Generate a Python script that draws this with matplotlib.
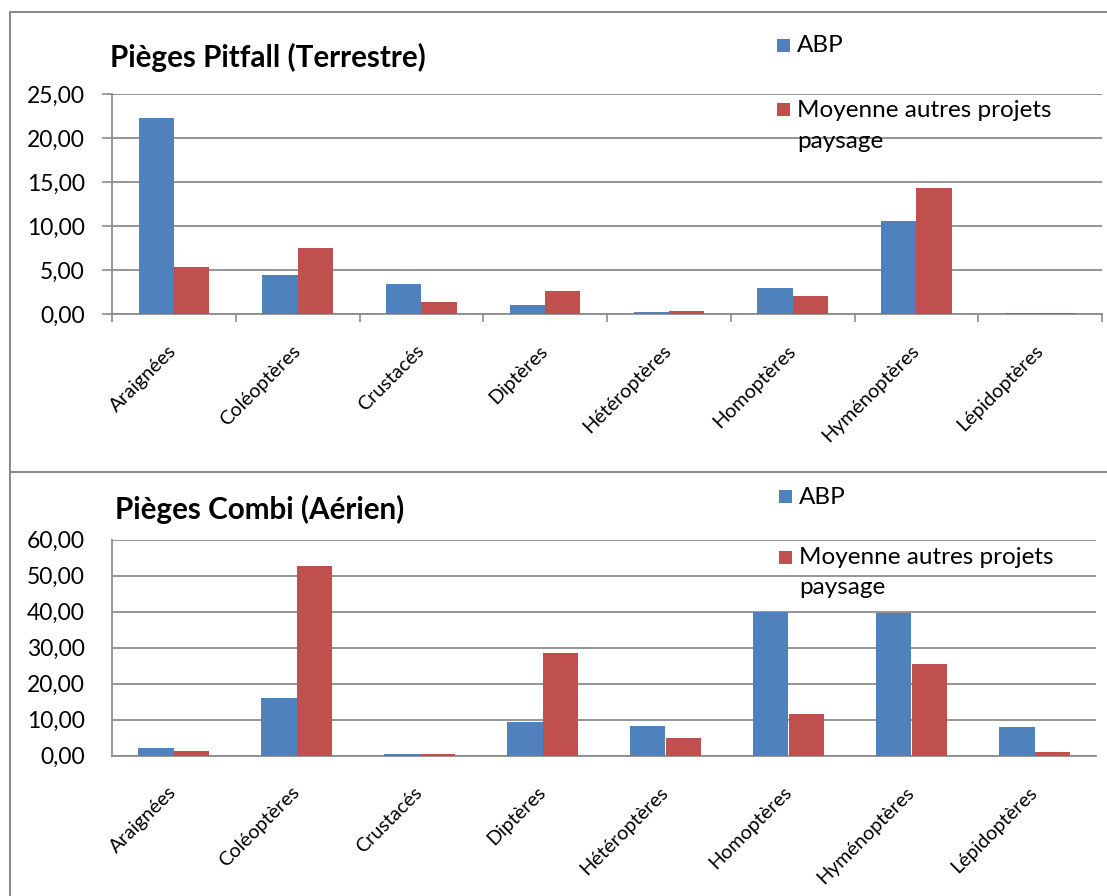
import matplotlib
matplotlib.use("Agg")
import matplotlib.pyplot as plt
from matplotlib.ticker import FuncFormatter, MultipleLocator, FixedLocator
from matplotlib.lines import Line2D
from matplotlib.patches import Rectangle
import numpy as np

# Insect groups and mean catches per trap type
categories = ["Araignées", "Coléoptères", "Crustacés", "Diptères",
              "Hétéroptères", "Homoptères", "Hyménoptères", "Lépidoptères"]
series_labels = ["ABP", "Moyenne autres projets\npaysage"]

pitfall_abp = [22.3, 4.4, 3.4, 1.05, 0.2, 2.95, 10.55, 0.15]
pitfall_autres = [5.3, 7.45, 1.35, 2.65, 0.35, 2.1, 14.3, 0.15]

combi_abp = [2.2, 16.1, 0.5, 9.3, 8.3, 40.0, 39.5, 7.95]
combi_autres = [1.2, 52.7, 0.4, 28.6, 4.8, 11.5, 25.3, 0.85]

titles = ["Pièges Pitfall (Terrestre)", "Pièges Combi (Aérien)"]

W, H = 1107, 896
BLUE = "#4F81BD"
RED = "#C0504D"
GRID = "#8c8c8c"
FRAME = "#8a8a8a"
FONT = "Lato"

plt.rcParams["font.family"] = [FONT, "DejaVu Sans"]

fig = plt.figure(figsize=(W / 100, H / 100), dpi=100)
fig.patch.set_facecolor("white")


def fx(px):
    return px / W


def fy(py):
    return 1 - py / H


def comma_fmt(v, pos):
    return f"{v:.2f}".replace(".", ",")


def draw_panel(rect, abp, autres, ymax, ystep, boundary_ticks):
    left, top, right, bottom = rect
    ax = fig.add_axes([fx(left), fy(bottom), fx(right - left), (bottom - top) / H])
    n = len(categories)
    x = np.arange(n) + 0.5
    bw = 1 / 3.5  # Excel gap width of 150 %
    b1 = ax.bar(x - bw / 2, abp, width=bw, color=BLUE, linewidth=0, zorder=3)
    b2 = ax.bar(x + bw / 2, autres, width=bw, color=RED, linewidth=0, zorder=3)
    ax.set_xlim(0, n)
    ax.set_ylim(0, ymax)
    ax.yaxis.set_major_locator(MultipleLocator(ystep))
    ax.yaxis.set_major_formatter(FuncFormatter(comma_fmt))
    ax.grid(axis="y", color=GRID, linewidth=1.3, zorder=0)
    ax.set_axisbelow(True)
    for side in ("top", "right"):
        ax.spines[side].set_visible(False)
    for side in ("left", "bottom"):
        ax.spines[side].set_color(GRID)
        ax.spines[side].set_linewidth(1.3)

    ax.set_xticks(x)
    ax.set_xticklabels(categories)
    ax.tick_params(axis="x", which="major", length=0, pad=24.5, labelsize=14.2)
    for lab in ax.get_xticklabels():
        lab.set_rotation(45)
        lab.set_ha("right")
        lab.set_va("center")
        lab.set_rotation_mode("anchor")
    if boundary_ticks:
        ax.xaxis.set_minor_locator(FixedLocator(np.arange(n + 1)))
        ax.tick_params(axis="x", which="minor", length=5.5, width=1.2, color=GRID, direction="out")
        ax.tick_params(axis="y", length=7, width=1.2, color=GRID, pad=12.5, labelsize=16.5)
    else:
        ax.tick_params(axis="y", length=0, pad=19.5, labelsize=16.5)
    return ax, (b1, b2)


def draw_legend(handles, x_sq, y_abp, y_autres, y_wrap):
    sq = 13
    for h, yc in zip(handles, (y_abp, y_autres)):
        color = h.patches[0].get_facecolor()
        fig.patches.append(Rectangle((fx(x_sq), fy(yc + sq / 2)), sq / W, sq / H,
                                     transform=fig.transFigure, facecolor=color,
                                     edgecolor="none"))
    fig.text(fx(x_sq + 20), fy(y_abp), series_labels[0], fontsize=17.5,
             va="center", ha="left")
    fig.text(fx(x_sq + 20), fy((y_autres + y_wrap) / 2), series_labels[1],
             fontsize=17.5, va="center", ha="left", linespacing=1.55)


# Top panel: pitfall traps
ax1, h1 = draw_panel((112, 94, 1102, 314), pitfall_abp, pitfall_autres, 25, 5, True)
fig.text(fx(110), fy(67), titles[0], fontsize=21.3, fontweight="bold", va="baseline", ha="left")
draw_legend(h1, 777, 46, 110, 142)

# Bottom panel: combi traps
ax2, h2 = draw_panel((112, 539.5, 1096, 755.5), combi_abp, combi_autres, 60, 10, False)
fig.text(fx(115), fy(519), titles[1], fontsize=21.3, fontweight="bold", va="baseline", ha="left")
draw_legend(h2, 779, 497, 557, 588)

# Panel frames
lw = 2 * 0.72
fig.add_artist(Line2D([fx(10), fx(W)], [fy(12), fy(12)], color=FRAME, linewidth=lw))
fig.add_artist(Line2D([fx(10), fx(10)], [fy(12), fy(H)], color=FRAME, linewidth=lw))
fig.add_artist(Line2D([fx(10), fx(W)], [fy(471.5), fy(471.5)], color=FRAME, linewidth=lw))

fig.savefig("out.png", dpi=100, facecolor="white")
